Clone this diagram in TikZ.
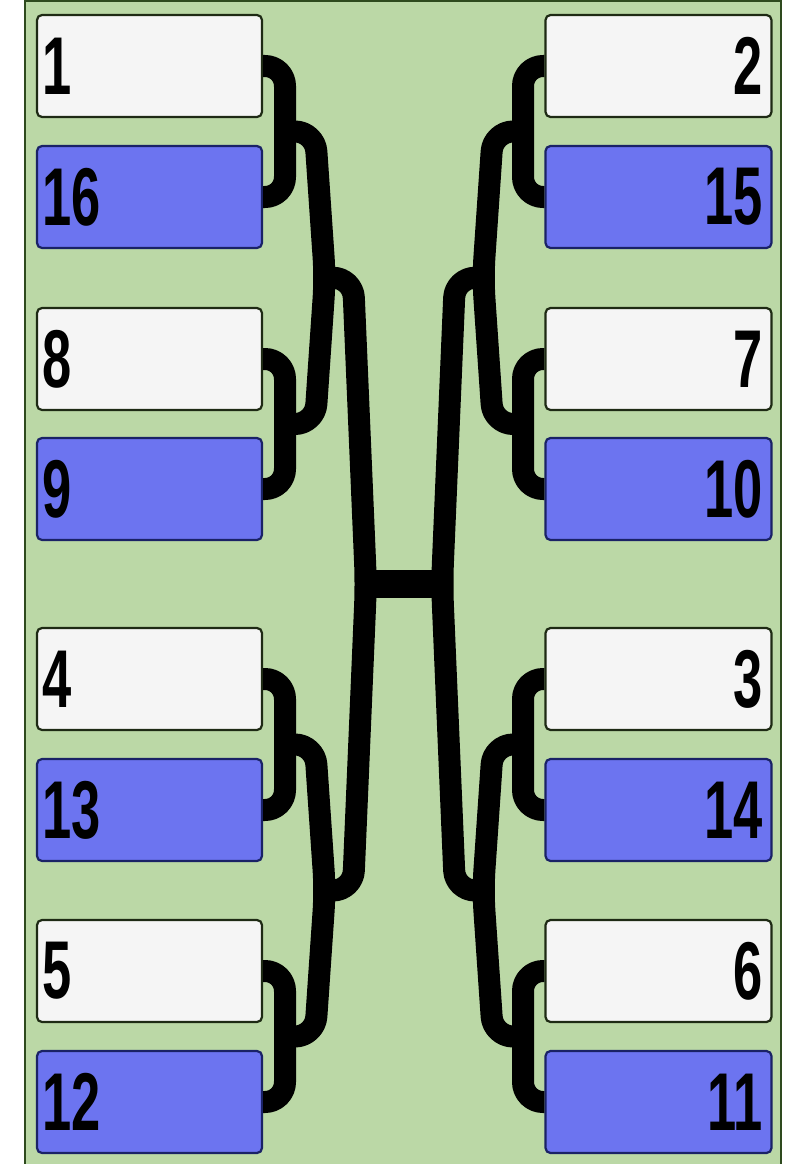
\documentclass[tikz,border=0pt]{standalone}
\usepackage{fontspec}
\setmainfont{Liberation Sans}
\usepackage{graphicx}
\usetikzlibrary{calc}
\definecolor{bggreen}{HTML}{BBD8A6}
\definecolor{frameline}{HTML}{2E4A1E}
\definecolor{seedwhite}{HTML}{F5F5F5}
\definecolor{seedblue}{HTML}{6C74F0}
\definecolor{edgedark}{HTML}{1E2A14}
\definecolor{edgeblue}{HTML}{1A2266}
\newcommand{\seednum}[1]{\scalebox{0.64}[1]{\fontsize{82}{82}\selectfont\bfseries #1}}
\tikzset{
  seedbox/.style={rectangle, rounded corners=5pt, line width=2.2pt,
    minimum width=225pt, minimum height=102pt, inner ysep=0pt},
  topseed/.style={seedbox, fill=seedwhite, draw=edgedark},
  lowseed/.style={seedbox, fill=seedblue, draw=edgeblue},
  leftcol/.style={inner xsep=5pt, text width=215pt, align=left},
  rightcol/.style={inner xsep=9pt, text width=208pt, align=right},
  wire/.style={draw=black, line width=22pt, rounded corners=20pt, line cap=butt, line join=round},
  centerbar/.style={draw=black, line width=28pt, line cap=butt},
}
\begin{document}
\begin{tikzpicture}[x=1pt,y=-1pt]
\useasboundingbox (0,0) rectangle (800,1164);
\fill[bggreen] (25,0) rectangle (781,1164);
\draw[frameline, line width=2pt] (25,1164) -- (25,1) -- (781,1) -- (781,1164);

% left column
\node[topseed,leftcol] (s1)  at (149.5,66)   {\seednum{1}};
\node[lowseed,leftcol] (s16) at (149.5,197)  {\seednum{16}};
\node[topseed,leftcol] (s8)  at (149.5,359)  {\seednum{8}};
\node[lowseed,leftcol] (s9)  at (149.5,489)  {\seednum{9}};
\node[topseed,leftcol] (s4)  at (149.5,679)  {\seednum{4}};
\node[lowseed,leftcol] (s13) at (149.5,810)  {\seednum{13}};
\node[topseed,leftcol] (s5)  at (149.5,971)  {\seednum{5}};
\node[lowseed,leftcol] (s12) at (149.5,1102) {\seednum{12}};
% right column
\node[topseed,rightcol] (s2)  at (658.5,66)   {\seednum{2}};
\node[lowseed,rightcol] (s15) at (658.5,197)  {\seednum{15}};
\node[topseed,rightcol] (s7)  at (658.5,359)  {\seednum{7}};
\node[lowseed,rightcol] (s10) at (658.5,489)  {\seednum{10}};
\node[topseed,rightcol] (s3)  at (658.5,679)  {\seednum{3}};
\node[lowseed,rightcol] (s14) at (658.5,810)  {\seednum{14}};
\node[topseed,rightcol] (s6)  at (658.5,971)  {\seednum{6}};
\node[lowseed,rightcol] (s11) at (658.5,1102) {\seednum{11}};

% junction points, left
\coordinate (la1) at (285,131.5);
\coordinate (la2) at (285,424);
\coordinate (la3) at (285,744.5);
\coordinate (la4) at (285,1036.5);
\coordinate (lb1) at (325,277.75);
\coordinate (lb2) at (325,890.5);
\coordinate (lc)  at (366,584.1);
% junction points, right
\coordinate (ra1) at (523,131.5);
\coordinate (ra2) at (523,424);
\coordinate (ra3) at (523,744.5);
\coordinate (ra4) at (523,1036.5);
\coordinate (rb1) at (483,277.75);
\coordinate (rb2) at (483,890.5);
\coordinate (rc)  at (442,584.1);

% first round, left
\draw[wire] (s1.east) -| (la1) |- (s16.east);
\draw[wire] (s8.east) -| (la2) |- (s9.east);
\draw[wire] (s4.east) -| (la3) |- (s13.east);
\draw[wire] (s5.east) -| (la4) |- (s12.east);
% first round, right
\draw[wire] (s2.west) -| (ra1) |- (s15.west);
\draw[wire] (s7.west) -| (ra2) |- (s10.west);
\draw[wire] (s3.west) -| (ra3) |- (s14.west);
\draw[wire] (s6.west) -| (ra4) |- (s11.west);

% second round
\draw[wire] (la1) -- (315,131.5) -- (lb1) -- (315,424) -- (la2);
\draw[wire] (la3) -- (315,744.5) -- (lb2) -- (315,1036.5) -- (la4);
\draw[wire] (ra1) -- (493,131.5) -- (rb1) -- (493,424) -- (ra2);
\draw[wire] (ra3) -- (493,744.5) -- (rb2) -- (493,1036.5) -- (ra4);

% third round
\draw[wire] (lb1) -- (353,277.75) -- (lc) -- (353,890.5) -- (lb2);
\draw[wire] (rb1) -- (455,277.75) -- (rc) -- (455,890.5) -- (rb2);

% final
\draw[centerbar] (lc) -- (rc);
\end{tikzpicture}
\end{document}
